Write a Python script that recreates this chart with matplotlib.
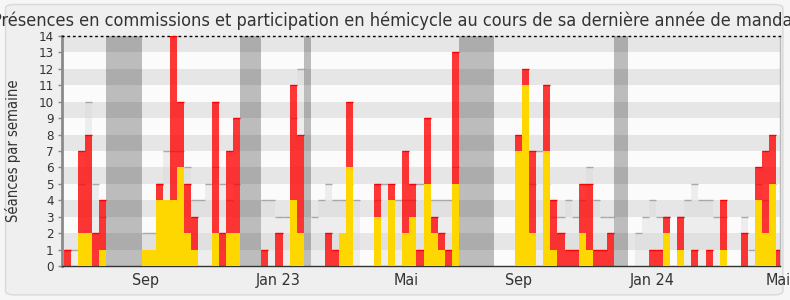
import numpy as np
import matplotlib
matplotlib.use('Agg')
import matplotlib.pyplot as plt
from matplotlib import font_manager
from matplotlib.patches import FancyBboxPatch

# one value per week, index 0 = first week shown
presences = [1, 0, 7, 8, 2, 4, 0, 0, 0, 0, 0, 1, 1, 5, 4, 14, 10, 5, 3, 0,
             0, 10, 2, 7, 9, 0, 0, 0, 1, 0, 2, 0, 11, 8, 0, 0, 0, 2, 1, 2,
             10, 0, 0, 0, 5, 0, 5, 0, 7, 5, 1, 9, 3, 2, 1, 13, 0, 0, 0, 0,
             0, 0, 0, 0, 8, 12, 7, 0, 11, 4, 2, 1, 1, 5, 5, 1, 1, 2, 0, 0,
             0, 0, 0, 1, 1, 3, 0, 3, 0, 1, 0, 1, 0, 4, 0, 0, 2, 0, 6, 7,
             8, 1]
hemicycle = [0, 0, 2, 2, 0, 1, 0, 0, 0, 0, 0, 1, 1, 4, 4, 4, 6, 2, 1, 0,
             0, 2, 0, 2, 2, 0, 0, 0, 0, 0, 0, 0, 4, 2, 0, 0, 0, 0, 0, 2,
             6, 0, 0, 0, 3, 0, 4, 0, 2, 3, 0, 5, 2, 1, 0, 5, 0, 0, 0, 0,
             0, 0, 0, 0, 7, 11, 2, 0, 7, 1, 0, 0, 0, 2, 1, 0, 0, 0, 0, 0,
             0, 0, 0, 0, 0, 2, 0, 1, 0, 0, 0, 0, 0, 1, 0, 0, 0, 0, 4, 2,
             5, 0]
moyenne = [1, 1, 5, 10, 5, 3, 0, 0, 0, 0, 0, 2, 2, 5, 7, 7, 7, 6, 4, 4,
           5, 6, 5, 4, 5, 0, 0, 0, 4, 4, 3, 3, 9, 12, 0, 3, 4, 5, 4, 4,
           5, 4, 0, 0, 4, 5, 4, 4, 4, 4, 5, 4, 4, 4, 4, 6, 0, 0, 0, 0,
           0, 0, 0, 0, 5, 5, 5, 7, 5, 3, 3, 4, 3, 4, 6, 4, 3, 3, 0, 0,
           0, 2, 3, 4, 3, 3, 0, 3, 4, 5, 4, 4, 3, 3, 0, 0, 3, 1, 5, 4,
           5, 1]
vacances = [6, 7, 8, 9, 10, 25, 26, 27, 34, 56, 57, 58, 59, 60, 78, 79]

mois_pos = [11.5, 30.4, 48.5, 64.5, 83.4, 101.3]
mois_labels = ['Sep', 'Jan 23', 'Mai', 'Sep', 'Jan 24', 'Mai']

titre = "Présences en commissions et participation en hémicycle au cours de sa dernière année de mandat"

# condensed font if the system has it
cond = [f.fname for f in font_manager.fontManager.ttflist
        if 'DejaVuSansCondensed.ttf' in f.fname]
if cond:
    fam = font_manager.FontProperties(fname=cond[0]).get_name()
    plt.rcParams['font.family'] = [fam, 'DejaVu Sans']
    plt.rcParams['font.stretch'] = 'condensed'

x = np.arange(len(presences))
presences = np.array(presences)
hemicycle = np.array(hemicycle)
moyenne = np.array(moyenne)

fig = plt.figure(figsize=(7.9, 3.0), dpi=100)
fig.patch.set_facecolor('#f6f6f6')
frame = FancyBboxPatch((0.007, 0.017), 0.984, 0.968,
                       boxstyle='round,pad=0,rounding_size=0.012',
                       transform=fig.transFigure, facecolor='#efefef',
                       edgecolor='#d9d9d9', lw=1, zorder=-10)
fig.patches.append(frame)

ax = fig.add_axes([62/790, 34/300, 718/790, 230/300])
ax.set_facecolor('#fbfbfb')

for k in range(14):
    ax.axhspan(k, k+1, color='#e6e6e6' if k % 2 else '#fbfbfb', lw=0, zorder=0)

# average of all deputies
ax.bar(x, moyenne, width=1, align='edge', color='#d5d5d5', alpha=0.35, lw=0, zorder=1)
m = moyenne > 0
ax.hlines(moyenne[m], x[m], x[m]+1, color='#a8a8a8', lw=1, zorder=1.5)

# vacations
ax.bar(vacances, 14, width=1, align='edge', color='black', alpha=0.25, lw=0, zorder=2)

ax.bar(x, presences, width=1, align='edge', color='red', alpha=0.78, lw=0, zorder=3)
p = presences > hemicycle
ax.hlines(presences[p], x[p], x[p]+1, color='#ff0000', lw=1, zorder=3.5)
ax.bar(x, hemicycle, width=1, align='edge', color='#ffd700', lw=0, zorder=4)

ax.set_xlim(-0.28, 101.56)
ax.set_ylim(0, 14)
ax.set_yticks(range(15))
ax.set_xticks(mois_pos)
ax.set_xticklabels(mois_labels)
ax.tick_params(axis='y', length=3, width=1, color='#888888', labelsize=9.5,
               labelcolor='#333333', pad=3)
ax.tick_params(axis='x', length=0, labelsize=11.5, labelcolor='#333333', pad=5)

ax.spines['left'].set_color('#8a8a8a')
ax.spines['left'].set_linewidth(2)
ax.spines['bottom'].set_color('#333333')
ax.spines['bottom'].set_linewidth(1)
ax.spines['right'].set_color('#bbbbbb')
ax.spines['right'].set_linewidth(1)
ax.spines['top'].set_color('black')
ax.spines['top'].set_linestyle((0, (1, 3)))
ax.spines['top'].set_linewidth(1)

ax.set_ylabel('Séances par semaine', fontsize=10.5, color='#333333')
ax.yaxis.set_label_coords(-41/718, 0.5)

fig.text(0.5, 1 - 21/300, titre, ha='center', va='center', fontsize=13,
         color='#333333')

fig.savefig('out.png', dpi=100, facecolor=fig.get_facecolor())
